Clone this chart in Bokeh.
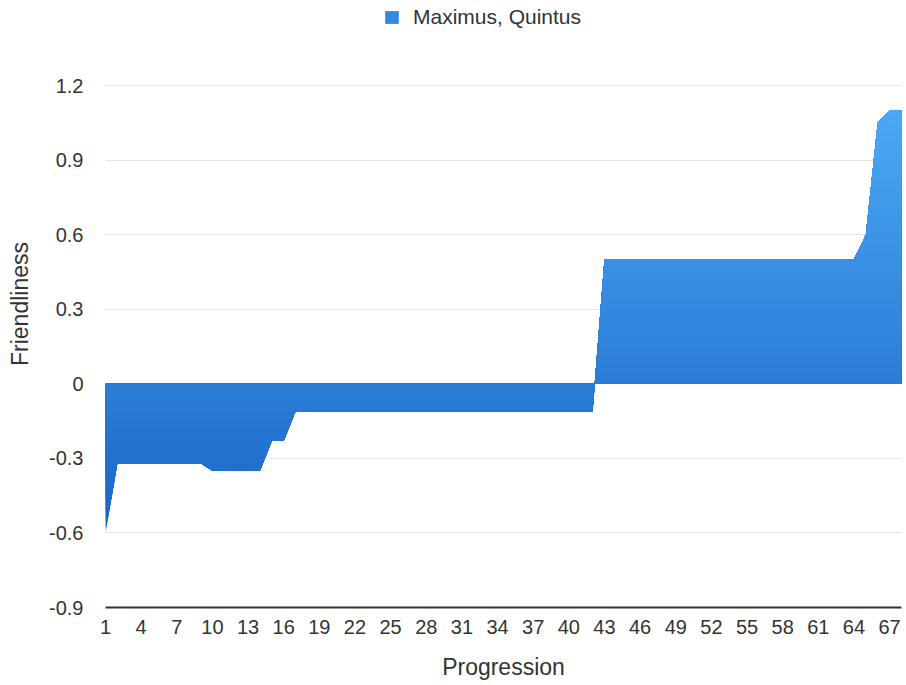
import numpy as np
from bokeh.plotting import figure
from bokeh.models import (ColumnDataSource, Range1d, FixedTicker, Legend, LegendItem)
from bokeh.embed import file_html
from bokeh.resources import INLINE

# ---- data -------------------------------------------------------------
progression = list(range(1, 69))
friendliness = (
    [-0.60]
    + [-0.32] * 8          # 2 .. 9
    + [-0.35] * 5          # 10 .. 14
    + [-0.23] * 2          # 15 .. 16
    + [-0.11] * 26         # 17 .. 42
    + [0.50] * 22          # 43 .. 64
    + [0.60, 1.05, 1.10, 1.10]  # 65 .. 68
)
series_name = "Maximus, Quintus"
x_tick_values = list(range(1, 68, 3))
y_tick_values = [-0.9, -0.6, -0.3, 0, 0.3, 0.6, 0.9, 1.2]
y_tick_labels = ["-0.9", "-0.6", "-0.3", "0", "0.3", "0.6", "0.9", "1.2"]

FONT = "Liberation Sans"
TOP_COLOR = (0x4d, 0xa8, 0xf5)
BOTTOM_COLOR = (0x19, 0x66, 0xc7)

# page geometry (pixels)
W, H = 906, 685
BORDER_LEFT, BORDER_RIGHT, BORDER_BOTTOM = 105, 5, 78
HEADROOM = 85          # space kept above the 1.2 line for the legend
Y_LO, Y_HI = y_tick_values[0], y_tick_values[-1]
axis_px = H - BORDER_BOTTOM - HEADROOM
y_top = Y_HI + HEADROOM * (Y_HI - Y_LO) / axis_px


def refine(xv, yv, levels):
    """Insert the points where the polyline crosses any of the given levels."""
    xs, ys = [xv[0]], [yv[0]]
    for k in range(len(xv) - 1):
        x0, y0, x1, y1 = xv[k], yv[k], xv[k + 1], yv[k + 1]
        cuts = []
        for L in levels:
            if (y0 - L) * (y1 - L) < 0:
                cuts.append(((L - y0) / (y1 - y0), L))
        for f, L in sorted(cuts):
            xs.append(x0 + f * (x1 - x0))
            ys.append(L)
        xs.append(x1)
        ys.append(y1)
    return np.array(xs, dtype=float), np.array(ys, dtype=float)


def blend(frac):
    r, g, b = (int(round(bc + (tc - bc) * frac)) for tc, bc in zip(TOP_COLOR, BOTTOM_COLOR))
    return "#%02x%02x%02x" % (r, g, b)


p = figure(width=W, height=H, output_backend="svg", toolbar_location=None,
           x_range=Range1d(1, 68), y_range=Range1d(Y_LO, y_top),
           min_border_left=BORDER_LEFT, min_border_right=BORDER_RIGHT,
           min_border_top=0, min_border_bottom=BORDER_BOTTOM)
p.outline_line_color = None
p.background_fill_color = "white"
p.border_fill_color = "white"

# ---- vertically graded area fill, built as stacked layers --------------
vals = np.array(friendliness, dtype=float)
lo_v, hi_v = vals.min(), vals.max()
n_layers = 60
thresholds = np.linspace(lo_v, hi_v, n_layers + 1)[:-1]
xs, ys = refine(np.array(progression, dtype=float), vals, [0.0] + list(thresholds[1:]))
neg = np.minimum(ys, 0.0)
pos = np.maximum(ys, 0.0)
layers = []
for k, t in enumerate(thresholds):
    frac = (t - lo_v) / (hi_v - lo_v)
    src = ColumnDataSource(dict(x=xs, y1=np.maximum(neg, t), y2=np.maximum(pos, t)))
    layers.append(p.varea(x="x", y1="y1", y2="y2", source=src,
                          fill_color=blend(frac), fill_alpha=1.0))

# legend at the head of the chart
legend = Legend(items=[LegendItem(label=series_name, renderers=[layers[n_layers // 2]])],
                location=(278, axis_px + HEADROOM - 29), orientation="horizontal")
legend.border_line_color = None
legend.background_fill_alpha = 0
legend.label_text_font = FONT
legend.label_text_font_size = "21px"
legend.label_text_color = "#333333"
legend.glyph_width = 17
legend.glyph_height = 16
legend.label_standoff = 13
legend.margin = 0
legend.padding = 4
p.add_layout(legend)

# ---- axes ------------------------------------------------------------
xa = p.xaxis[0]
xa.ticker = FixedTicker(ticks=x_tick_values)
xa.axis_line_color = "#333333"
xa.axis_line_width = 2
xa.major_tick_line_color = None
xa.minor_tick_line_color = None
xa.major_label_text_font = FONT
xa.major_label_text_font_size = "20px"
xa.major_label_text_color = "#333333"
xa.major_label_standoff = 6
xa.axis_label = "Progression"
xa.axis_label_text_font = FONT
xa.axis_label_text_font_size = "23px"
xa.axis_label_text_font_style = "normal"
xa.axis_label_text_color = "#333333"
xa.axis_label_standoff = 17

ya = p.yaxis[0]
ya.bounds = (Y_LO, Y_HI)
ya.ticker = FixedTicker(ticks=y_tick_values)
ya.major_label_overrides = {v: s for v, s in zip(y_tick_values, y_tick_labels)}
ya.axis_line_color = None
ya.major_tick_line_color = None
ya.minor_tick_line_color = None
ya.major_label_text_font = FONT
ya.major_label_text_font_size = "20px"
ya.major_label_text_color = "#333333"
ya.major_label_standoff = 16
ya.axis_label = "Friendliness"
ya.axis_label_text_font = FONT
ya.axis_label_text_font_size = "23px"
ya.axis_label_text_font_style = "normal"
ya.axis_label_text_color = "#333333"
ya.axis_label_standoff = 13

p.xgrid.grid_line_color = None
p.ygrid.ticker = FixedTicker(ticks=y_tick_values)
p.ygrid.grid_line_color = "#e6e6e6"
p.ygrid.grid_line_width = 1

open("out.html", "w").write(file_html(p, INLINE))
